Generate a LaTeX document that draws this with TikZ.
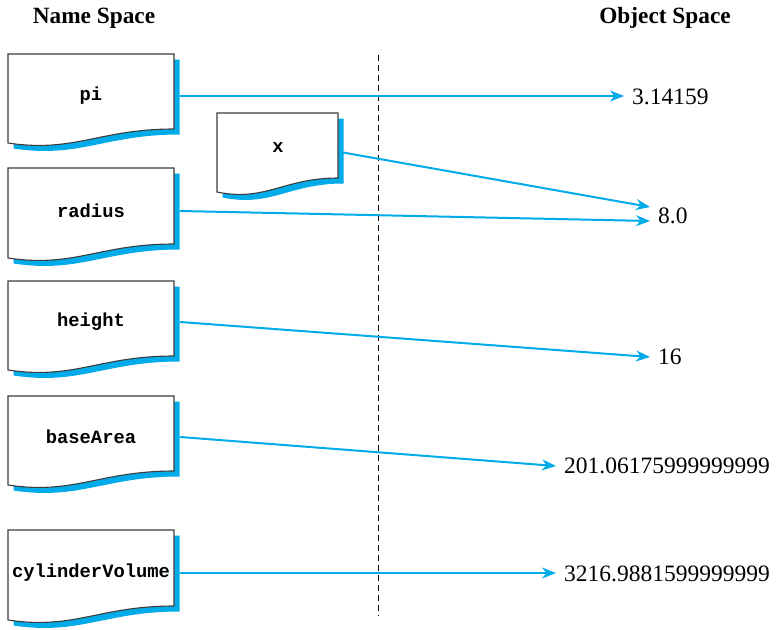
\documentclass[tikz,border=0pt]{standalone}
\usepackage{fontspec}
\setmainfont{Liberation Serif}
\newfontfamily\codefont{Liberation Mono}
\usetikzlibrary{arrows.meta,calc}
\definecolor{linkblue}{RGB}{0,171,234}
\definecolor{boxgray}{RGB}{60,60,60}
\tikzset{
  docshadow/.style={fill=linkblue,draw=none},
  docbox/.style={fill=white,draw=boxgray,line width=1.1pt},
  varname/.style={font=\codefont\bfseries\fontsize{18.8}{20}\selectfont,inner sep=0pt,minimum height=20pt},
  valtext/.style={font=\fontsize{23.5}{26}\selectfont,anchor=west,inner ysep=0pt,inner xsep=8pt},
  title/.style={font=\bfseries\fontsize{23.3}{26}\selectfont,inner sep=0pt},
  link/.style={draw=linkblue,line width=2pt,-{Stealth[length=14pt,width=11pt,inset=4.5pt]}},
  divider/.style={draw=black,line width=1pt,dash pattern=on 6pt off 4pt}
}
% #1 x0, #2 y0, #3 width, #4 left height
\newcommand\docpath[4]{(#1,#2) -- ({#1+#3},#2) -- ({#1+#3},{#2+#4-14})
  .. controls ({#1+0.55*#3},{#2+#4-14}) and ({#1+0.4*#3},{#2+#4+10}) .. (#1,{#2+#4}) -- cycle}
\newcommand\docshape[4]{%
  \path[docshadow] \docpath{#1+5.5}{#2+5.5}{#3}{#4};
  \path[docbox] \docpath{#1}{#2}{#3}{#4};}
\begin{document}
\begin{tikzpicture}[x=1pt,y=-1pt]
\useasboundingbox (0,0) rectangle (776,629);
% titles
\node[title] (ns) at (94,18) {Name Space};
\node[title] (os) at (665,18) {Object Space};
% divider
\coordinate (dtop) at (378,55);
\coordinate (dbot) at (378,616);
\draw[divider] (dtop) -- (dbot);
% document boxes
\docshape{8}{54}{166}{89}
\docshape{8}{168}{166}{90}
\docshape{8}{281}{166}{89}
\docshape{8}{396}{166}{89}
\docshape{8}{530}{166}{90}
\docshape{217}{113}{121}{79}
% variable names
\node[varname,minimum width=172pt] (pi) at (91,96) {pi};
\node[varname,minimum width=172pt] (radius) at (91,211) {radius};
\node[varname,minimum width=172pt] (height) at (91,322) {height};
\node[varname,minimum width=172pt] (base) at (91,437) {baseArea};
\node[varname,minimum width=172pt] (cyl) at (91,573) {cylinderVolume};
\node[varname,minimum width=124pt] (x) at (278,148) {x};
% values
\node[valtext] (v1) at (624,97) {3.14159};
\node[valtext] (v2) at (650,216) {8.0};
\node[valtext] (v3) at (650,357) {16};
\node[valtext] (v4) at (556,466) {201.06175999999999};
\node[valtext] (v5) at (556,574) {3216.9881599999999};
% connectors
\draw[link] ($(pi.east)+(3,0)$) -- (v1.west |- pi.east);
\draw[link] ($(x.east)+(0,4)$) -- ($(v2.west)+(0,-9)$);
\draw[link] ($(radius.east)+(3,0)$) -- ($(v2.west)+(0,5)$);
\draw[link] ($(height.east)+(3,0)$) -- (v3.west);
\draw[link] ($(base.east)+(3,0)$) -- (v4.west);
\draw[link] ($(cyl.east)+(3,0)$) -- (v5.west |- cyl.east);
\end{tikzpicture}
\end{document}
